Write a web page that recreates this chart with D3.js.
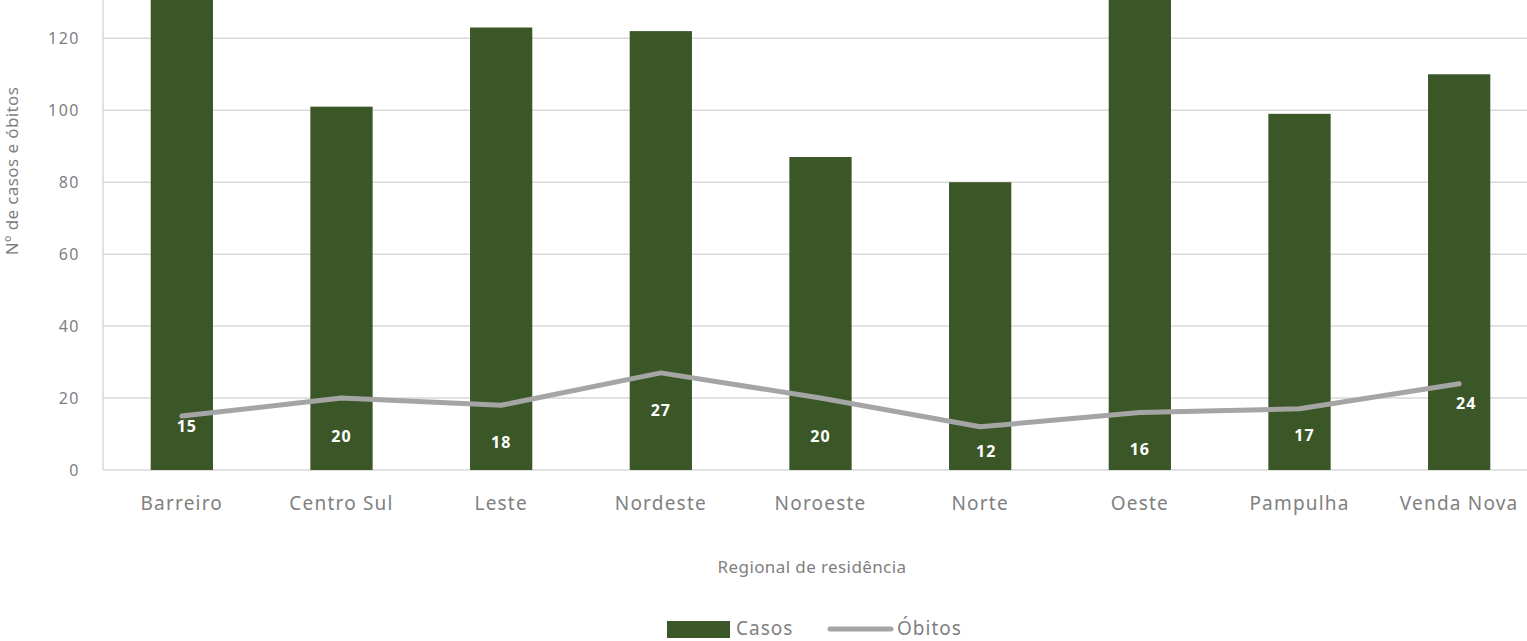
<!DOCTYPE html>
<html>
<head>
<meta charset="utf-8">
<script src="https://cdn.jsdelivr.net/npm/d3@7"></script>
<style>
  body { margin: 0; background: #fff; }
  svg { display: block; }
</style>
</head>
<body>
<svg id="chart" width="1527" height="641"></svg>
<script>
// Data
const regionais = ["Barreiro", "Centro Sul", "Leste", "Nordeste", "Noroeste", "Norte", "Oeste", "Pampulha", "Venda Nova"];
const casos = [141, 101, 123, 122, 87, 80, 147, 99, 110];
const obitos = [15, 20, 18, 27, 20, 12, 16, 17, 24];
const yTicks = [0, 20, 40, 60, 80, 100, 120];

// Label nudges (pixels) so the value labels sit where Excel put them
const labelDx = [5, 0, 0, 0, 0, 6, 0, 5, 7];
const labelDy = [10, 38, 37, 38, 38, 25, 37, 27, 20];

const barColor = "#3b5728";
const lineColor = "#a5a5a5";
const gridColor = "#d9d9d9";
const textColor = "#808080";
const font = "'Noto Sans', 'Open Sans', sans-serif";

const svg = d3.select("#chart");

const x = d3.scaleBand()
    .domain(regionais)
    .range([102, 1539])
    .paddingInner(0.61)
    .paddingOuter(0.305);

const y = d3.scaleLinear()
    .domain([0, 120])
    .range([470, 38.3]);

// Gridlines
svg.append("g")
    .selectAll("line")
    .data(yTicks)
    .enter()
    .append("line")
    .attr("x1", 103)
    .attr("x2", 1527)
    .attr("y1", d => y(d))
    .attr("y2", d => y(d))
    .attr("stroke", gridColor)
    .attr("stroke-width", 1.5);

// Vertical axis line
svg.append("line")
    .attr("x1", 103).attr("x2", 103)
    .attr("y1", 0).attr("y2", y(0))
    .attr("stroke", gridColor)
    .attr("stroke-width", 1.5);

// Y tick labels
svg.append("g")
    .selectAll("text")
    .data(yTicks)
    .enter()
    .append("text")
    .attr("x", 80)
    .attr("y", d => y(d))
    .attr("dy", "0.35em")
    .attr("text-anchor", "end")
    .attr("fill", textColor)
    .attr("font-family", font)
    .attr("font-size", "16px")
    .attr("letter-spacing", "1.5px")
    .text(d => d);

// Bars
svg.append("g")
    .selectAll("rect")
    .data(casos)
    .enter()
    .append("rect")
    .attr("x", (d, i) => x(regionais[i]))
    .attr("width", x.bandwidth())
    .attr("y", d => y(d))
    .attr("height", d => y(0) - y(d))
    .attr("fill", barColor);

// Line for óbitos
const cx = i => x(regionais[i]) + x.bandwidth() / 2;
const line = d3.line()
    .x((d, i) => cx(i))
    .y(d => y(d));

svg.append("path")
    .datum(obitos)
    .attr("d", line)
    .attr("fill", "none")
    .attr("stroke", lineColor)
    .attr("stroke-width", 5)
    .attr("stroke-linecap", "round")
    .attr("stroke-linejoin", "round");

// Value labels
svg.append("g")
    .selectAll("text")
    .data(obitos)
    .enter()
    .append("text")
    .attr("x", (d, i) => cx(i) + labelDx[i])
    .attr("y", (d, i) => y(d) + labelDy[i])
    .attr("dy", "0.35em")
    .attr("text-anchor", "middle")
    .attr("fill", "#ffffff")
    .attr("font-family", font)
    .attr("font-weight", "bold")
    .attr("font-size", "16px")
    .attr("letter-spacing", "1px")
    .text(d => d);

// Category labels
svg.append("g")
    .selectAll("text")
    .data(regionais)
    .enter()
    .append("text")
    .attr("x", d => x(d) + x.bandwidth() / 2)
    .attr("y", 503)
    .attr("dy", "0.35em")
    .attr("text-anchor", "middle")
    .attr("fill", textColor)
    .attr("font-family", font)
    .attr("font-size", "19px")
    .attr("letter-spacing", "1.2px")
    .text(d => d);

// Axis titles
svg.append("text")
    .attr("x", 812)
    .attr("y", 567)
    .attr("dy", "0.35em")
    .attr("text-anchor", "middle")
    .attr("fill", textColor)
    .attr("font-family", font)
    .attr("font-size", "17px")
    .attr("letter-spacing", "0.4px")
    .text("Regional de residência");

svg.append("text")
    .attr("transform", "translate(12,171) rotate(-90)")
    .attr("dy", "0.35em")
    .attr("text-anchor", "middle")
    .attr("fill", textColor)
    .attr("font-family", font)
    .attr("font-size", "17px")
    .attr("letter-spacing", "0.4px")
    .text("Nº de casos e óbitos");

// Legend
const legend = svg.append("g");
legend.append("rect")
    .attr("x", 667).attr("y", 621)
    .attr("width", 63).attr("height", 17)
    .attr("fill", barColor);
legend.append("text")
    .attr("x", 736).attr("y", 628)
    .attr("dy", "0.35em")
    .attr("fill", textColor)
    .attr("font-family", font)
    .attr("font-size", "19px")
    .attr("letter-spacing", "1px")
    .text("Casos");
legend.append("line")
    .attr("x1", 830).attr("x2", 891)
    .attr("y1", 629).attr("y2", 629)
    .attr("stroke", lineColor)
    .attr("stroke-width", 5)
    .attr("stroke-linecap", "round");
legend.append("text")
    .attr("x", 897).attr("y", 628)
    .attr("dy", "0.35em")
    .attr("fill", textColor)
    .attr("font-family", font)
    .attr("font-size", "19px")
    .attr("letter-spacing", "1px")
    .text("Óbitos");
</script>
</body>
</html>
